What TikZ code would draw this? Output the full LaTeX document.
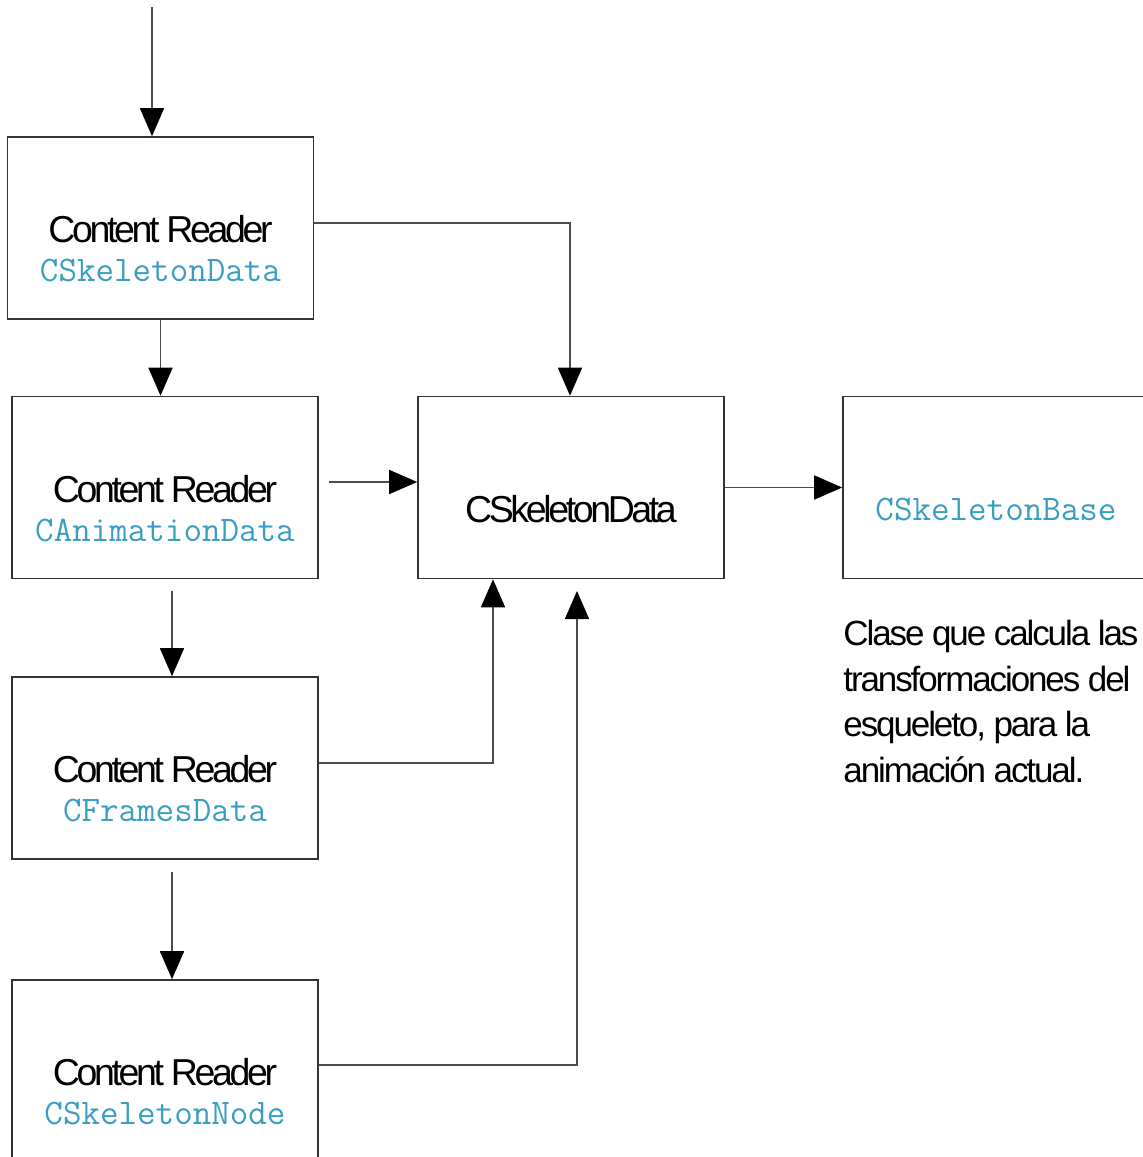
\documentclass[tikz,border=0pt]{standalone}
\usepackage{fontspec}
\setmainfont{Liberation Sans}[LetterSpace=-9]
\usepackage{tikz}
\usetikzlibrary{positioning}
\usetikzlibrary{arrows.meta}
\definecolor{codeblue}{HTML}{3A9EC2}
\newcommand{\cls}[1]{{\ttfamily\fontsize{18}{19.5}\selectfont\color{codeblue}#1}}

\begin{document}
\begin{tikzpicture} [
    x=0.5pt, y=-0.5pt,              % one unit is one pixel of the plan
    ]
% -------------------------------------------------
\tikzset{
  box/.style={draw=black!80, line width=0.8pt, rectangle, inner sep=0pt, minimum width=153pt, minimum height=91pt},
  txt/.style={align=center, inner sep=0pt, font=\fontsize{18.75}{19.5}\selectfont},
  line/.style={draw, black!70, line width=0.8pt, -{Triangle[length=14pt,width=12pt,color=black]}},
}
    \useasboundingbox (0,0) rectangle (1142,1157);

    \node [box] (b1) at (160.5,228) {};
    \node [box] (b2) at (165,487.5) {};
    \node [box] (b3) at (165,768) {};
    \node [box] (b4) at (165,1071) {};
    \node [box] (data) at (571,487.5) {};
    \node [box] (base) at (996,487.5) {};

    \node [txt, yshift=-10.5pt] (t1) at (b1.center) {Content Reader\\\cls{CSkeletonData}};
    \node [txt, yshift=-10.5pt] (t2) at (b2.center) {Content Reader\\\cls{CAnimationData}};
    \node [txt, yshift=-10.5pt] (t3) at (b3.center) {Content Reader\\\cls{CFramesData}};
    \node [txt, yshift=-10.5pt] (t4) at (b4.center) {Content Reader\\\cls{CSkeletonNode}};
    \node [txt, yshift=-11pt] (tdata) at (data.center) {CSkeletonData};
    \node [txt, yshift=-11pt] (tbase) at (base.center) {\cls{CSkeletonBase}};

    \node [txt, align=left, anchor=north west, font=\fontsize{17.5}{22.75}\selectfont\addfontfeature{LetterSpace=-6}] (note) at (843,620)
      {Clase que calcula las\\transformaciones del\\esqueleto, para la\\animación actual.};

    \coordinate (in) at (152,7);
    \coordinate (c2) at (329,482);
    \coordinate (c23) at (172,591);
    \coordinate (c34) at (172,872);
    \coordinate (c4) at (577,591);

    \path [line] (in) -- (in |- b1.north);
    \path [line] ([yshift=2.5pt]b1.east) -| ([xshift=-0.5pt]data.north);
    \path [line] (b1.south) -- (b1.south |- b2.north);
    \path [line] (c2) -- (c2 -| data.west);
    \path [line] (data.east) -- (base.west);
    \path [line] (c23) -- (c23 |- b3.north);
    \path [line] (c34) -- (c34 |- b4.north);
    \path [line] ([yshift=2.5pt]b3.east) -| ([xshift=-39pt]data.south);
    \path [line] ([yshift=3pt]b4.east) -| (c4);

\end{tikzpicture}
\end{document}
